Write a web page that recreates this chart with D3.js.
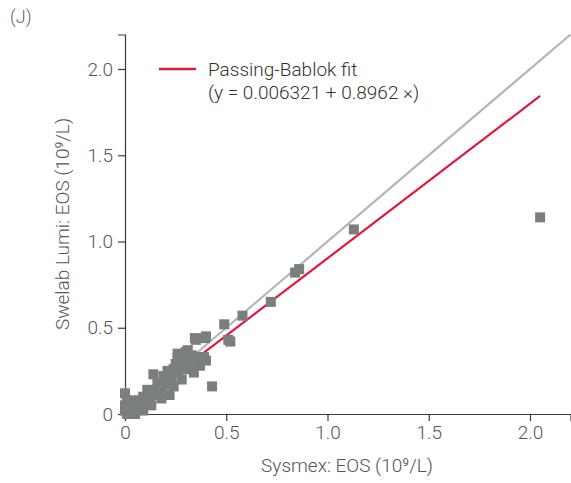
<!DOCTYPE html>
<html><head><meta charset="utf-8">
<script src="https://cdn.jsdelivr.net/npm/d3@7"></script>
<style>
body{margin:0;background:#fff;}
text{font-family:Roboto,"Liberation Sans",sans-serif;font-weight:300;}
</style></head>
<body><svg id="c" width="571" height="483"></svg>
<script>
const panelLabel = "(J)";
const xLabel = "Sysmex: EOS (10⁹/L)";
const yLabel = "Swelab Lumi: EOS (10⁹/L)";
const legendLines = ["Passing-Bablok fit", "(y = 0.006321 + 0.8962 ×)"];
const fitIntercept = 0.006321, fitSlope = 0.8962;
const fitRange = [0, 2.05];
const identityRange = [0, 2.2];
const xTicks = [0, 0.5, 1.0, 1.5, 2.0];
const yTicks = [0, 0.5, 1.0, 1.5, 2.0];
const tickLabels = ["0", "0.5", "1.0", "1.5", "2.0"];
const sysmexX = [2.05,1.13,0.86,0.84,0.72,0.58,0.49,0.51,0.52,0.40,0.35,0.43,0.40,0.39,0.37,0.34,0.33,0.30,0.31,0.29,0.27,0.26,0.25,0.32,0.30,0.28,0.24,0.22,0.21,0.19,0.17,0.16,0.14,0.12,0.11,0.09,0.06,0.03,0.00,0.01,0.05,0.00,0.02,0.04,0.07,0.08,0.10,0.13,0.15,0.18,0.20,0.23,0.26,0.22,0.17,0.12,0.06,0.03,0.00,0.01,0.09,0.345,0.395,0.26,0.31,0.33,0.21,0.18,0.13,0.28,0.24,0.20,0.15,0.11,0.08,0.05,0.02,0.36,0.29];
const swelabY = [1.14,1.07,0.84,0.82,0.65,0.57,0.52,0.43,0.42,0.45,0.43,0.16,0.31,0.33,0.28,0.24,0.34,0.36,0.37,0.32,0.30,0.35,0.29,0.30,0.26,0.20,0.16,0.11,0.25,0.22,0.11,0.18,0.23,0.07,0.14,0.10,0.08,0.04,0.02,0.00,0.00,0.12,0.07,0.05,0.04,0.06,0.08,0.12,0.14,0.16,0.19,0.21,0.24,0.20,0.15,0.10,0.03,0.01,0.05,0.08,0.02,0.44,0.44,0.33,0.30,0.265,0.19,0.09,0.05,0.27,0.26,0.17,0.12,0.09,0.03,0.06,0.00,0.33,0.28];

const svg = d3.select("#c");
const x = d3.scaleLinear().domain([0, 2.2]).range([125, 570.5]);
const y = d3.scaleLinear().domain([0, 2.2]).range([414, 34.5]);

const axisColor = "#3a3a3a", tickTextColor = "#555";
const fs = "19px";

// axes
const xa = svg.append("g").attr("transform", "translate(0,414)")
  .call(d3.axisBottom(x).tickValues(xTicks).tickSizeOuter(0).tickSize(7).tickPadding(5)
    .tickFormat((d,i)=>tickLabels[i]));
const ya = svg.append("g").attr("transform", "translate(125,0)")
  .call(d3.axisLeft(y).tickValues(yTicks).tickSizeOuter(0).tickSize(7).tickPadding(5)
    .tickFormat((d,i)=>tickLabels[i]));
[xa, ya].forEach(g => {
  g.select(".domain").attr("stroke", axisColor).attr("stroke-width", 1.2);
  g.selectAll(".tick line").attr("stroke", axisColor).attr("stroke-width", 1.2);
  g.selectAll(".tick text").attr("fill", tickTextColor).style("font-size", fs)
    .style("font-family", "Roboto, sans-serif").style("font-weight", 300);
});

// identity line
svg.append("line")
  .attr("x1", x(identityRange[0])).attr("y1", y(identityRange[0]))
  .attr("x2", x(identityRange[1])).attr("y2", y(identityRange[1]))
  .attr("stroke", "#b5b5b5").attr("stroke-width", 2.2);
// fit line
svg.append("line")
  .attr("x1", x(fitRange[0])).attr("y1", y(fitIntercept + fitSlope*fitRange[0]))
  .attr("x2", x(fitRange[1])).attr("y2", y(fitIntercept + fitSlope*fitRange[1]))
  .attr("stroke", "#e0183a").attr("stroke-width", 2.2);

// points
const s = 10;
svg.append("g").selectAll("rect").data(sysmexX.map((v,i)=>[v, swelabY[i]])).join("rect")
  .attr("x", d => x(d[0]) - s/2).attr("y", d => y(d[1]) - s/2)
  .attr("width", s).attr("height", s).attr("fill", "#7a7e7e");

// legend
svg.append("line").attr("x1", 159).attr("x2", 196).attr("y1", 69).attr("y2", 69)
  .attr("stroke", "#e0183a").attr("stroke-width", 2.4);
svg.append("text").attr("x", 208).attr("y", 76).attr("fill", "#333").style("font-size", fs).text(legendLines[0]);
svg.append("text").attr("x", 208).attr("y", 99).attr("fill", "#333").style("font-size", fs).text(legendLines[1]);

// labels
svg.append("text").attr("x", 347).attr("y", 472).attr("text-anchor", "middle")
  .attr("fill", tickTextColor).style("font-size", fs).text(xLabel);
svg.append("text").attr("transform", "translate(69,224) rotate(-90)").attr("text-anchor", "middle")
  .attr("fill", tickTextColor).style("font-size", fs).text(yLabel);
svg.append("text").attr("x", 10).attr("y", 23).attr("fill", "#666").style("font-size", "18px").text(panelLabel);
</script></body></html>
